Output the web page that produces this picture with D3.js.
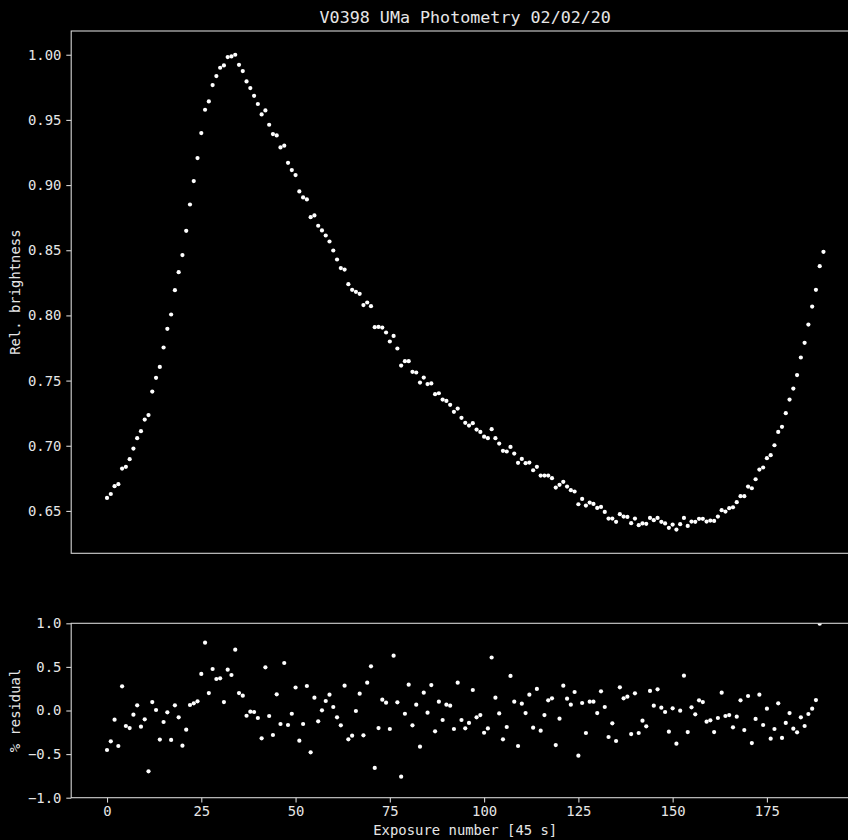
<!DOCTYPE html>
<html>
<head>
<meta charset="utf-8">
<script src="https://cdn.jsdelivr.net/npm/d3@7/dist/d3.min.js"></script>
<style>
  html, body { margin: 0; padding: 0; background: #000; }
  svg { display: block; }
  text { font-family: "DejaVu Sans Mono", monospace; fill: #e6e6e6; }
</style>
</head>
<body>
<svg id="chart" width="848" height="840"></svg>
<script>
// Relative brightness per exposure (45 s each)
const brightness = [
  0.6600, 0.6630, 0.6690, 0.6705, 0.6825, 0.6838, 0.6897, 0.6978, 0.7058, 0.7112,
  0.7201, 0.7235, 0.7416, 0.7521, 0.7605, 0.7754, 0.7897, 0.8007, 0.8194, 0.8332,
  0.8463, 0.8649, 0.8851, 0.9031, 0.9207, 0.9399, 0.9578, 0.9642, 0.9767, 0.9836,
  0.9900, 0.9918, 0.9982, 0.9987, 1.0000, 0.9923, 0.9875, 0.9795, 0.9744, 0.9685,
  0.9622, 0.9542, 0.9573, 0.9463, 0.9391, 0.9381, 0.9289, 0.9302, 0.9171, 0.9115,
  0.9077, 0.8951, 0.8905, 0.8890, 0.8754, 0.8767, 0.8688, 0.8652, 0.8613, 0.8567,
  0.8498, 0.8429, 0.8363, 0.8352, 0.8240, 0.8196, 0.8181, 0.8166, 0.8079, 0.8099,
  0.8071, 0.7910, 0.7912, 0.7907, 0.7869, 0.7800, 0.7843, 0.7746, 0.7615, 0.7649,
  0.7649, 0.7567, 0.7562, 0.7485, 0.7523, 0.7473, 0.7478, 0.7396, 0.7403, 0.7354,
  0.7344, 0.7314, 0.7260, 0.7285, 0.7214, 0.7176, 0.7155, 0.7173, 0.7124, 0.7106,
  0.7070, 0.7058, 0.7127, 0.7058, 0.7017, 0.6961, 0.6956, 0.6991, 0.6940, 0.6869,
  0.6899, 0.6866, 0.6871, 0.6812, 0.6838, 0.6771, 0.6771, 0.6771, 0.6751, 0.6679,
  0.6700, 0.6723, 0.6687, 0.6659, 0.6649, 0.6551, 0.6592, 0.6541, 0.6564, 0.6554,
  0.6523, 0.6531, 0.6492, 0.6441, 0.6441, 0.6416, 0.6475, 0.6457, 0.6454, 0.6406,
  0.6441, 0.6391, 0.6404, 0.6401, 0.6446, 0.6429, 0.6446, 0.6416, 0.6404, 0.6370,
  0.6395, 0.6357, 0.6398, 0.6446, 0.6385, 0.6418, 0.6416, 0.6439, 0.6439, 0.6418,
  0.6426, 0.6423, 0.6457, 0.6506, 0.6495, 0.6521, 0.6528, 0.6567, 0.6613, 0.6613,
  0.6687, 0.6674, 0.6743, 0.6817, 0.6833, 0.6905, 0.6928, 0.7004, 0.7106, 0.7145,
  0.7250, 0.7354, 0.7439, 0.7542, 0.7677, 0.7790, 0.7930, 0.8068, 0.8196, 0.8378,
  0.8488
];

// Fit residuals in percent
const residual = [
  -0.453, -0.353, -0.105, -0.407, 0.277, -0.178, -0.201, -0.048, 0.059, -0.185,
  -0.101, -0.698, 0.097, 0.006, -0.334, -0.132, -0.021, -0.338, 0.059, -0.078,
  -0.403, -0.220, 0.063, 0.082, 0.105, 0.419, 0.778, 0.200, 0.476, 0.361,
  0.369, 0.097, 0.468, 0.407, 0.698, 0.200, 0.170, -0.060, -0.014, -0.017,
  -0.086, -0.319, 0.495, -0.063, -0.281, 0.186, -0.155, 0.545, -0.166, -0.037,
  0.264, -0.346, -0.155, 0.281, -0.480, 0.147, -0.124, 0.002, 0.109, 0.182,
  0.040, -0.078, -0.170, 0.285, -0.331, -0.289, -0.006, 0.193, -0.285, 0.319,
  0.507, -0.659, -0.201, 0.124, 0.090, -0.212, 0.629, 0.094, -0.759, -0.037,
  0.296, -0.170, 0.067, -0.415, 0.204, -0.025, 0.292, -0.239, 0.101, -0.109,
  0.067, 0.055, -0.212, 0.319, -0.109, -0.204, -0.143, 0.235, -0.078, -0.052,
  -0.255, -0.206, 0.608, 0.147, -0.033, -0.331, -0.189, 0.396, 0.101, -0.407,
  0.078, -0.029, 0.182, -0.197, 0.247, -0.231, -0.052, 0.117, 0.140, -0.396,
  -0.094, 0.285, 0.136, 0.067, 0.212, -0.518, 0.086, -0.258, 0.101, 0.101,
  -0.029, 0.220, 0.040, -0.304, -0.147, -0.350, 0.266, 0.140, 0.158, -0.270,
  0.197, -0.258, -0.117, -0.181, 0.224, 0.055, 0.243, 0.032, -0.017, -0.243,
  0.025, -0.381, -0.002, 0.399, -0.247, 0.036, -0.044, 0.117, 0.097, -0.128,
  -0.113, -0.247, -0.086, 0.204, -0.063, -0.052, -0.193, -0.071, 0.117, -0.224,
  0.166, -0.373, -0.097, 0.182, -0.166, 0.021, -0.323, -0.212, 0.082, -0.315,
  -0.143, -0.029, -0.209, -0.250, -0.078, -0.178, -0.040, 0.021, 0.120, 0.995
];

const xTicks = [0, 25, 50, 75, 100, 125, 150, 175];
const yTicksTop = [0.65, 0.70, 0.75, 0.80, 0.85, 0.90, 0.95, 1.00];
const yTicksBottom = [-1.0, -0.5, 0.0, 0.5, 1.0];

const titleText = "V0398 UMa Photometry 02/02/20";
const xLabel = "Exposure number [45 s]";
const yLabelTop = "Rel. brightness";
const yLabelBottom = "% residual";

const svg = d3.select("#chart");
const W = 848, H = 840;
svg.append("rect").attr("width", W).attr("height", H).attr("fill", "#000");

const axisColor = "#d4d4d4";
const left = 71.2, right = 859.3;
const topPanel = { top: 31, bottom: 553.3 };
const botPanel = { top: 623.3, bottom: 797.7 };

// 5% data margins on x and on the brightness axis
const n = brightness.length;
const xPad = (n - 1) * 0.05;
const x = d3.scaleLinear().domain([-xPad, (n - 1) + xPad]).range([left, right]);

const bMin = d3.min(brightness), bMax = d3.max(brightness);
const bPad = (bMax - bMin) * 0.05;
const yTop = d3.scaleLinear().domain([bMin - bPad, bMax + bPad]).range([topPanel.bottom, topPanel.top]);
const yBot = d3.scaleLinear().domain([-1, 1]).range([botPanel.bottom, botPanel.top]);

const minus = s => s.replace("-", "\u2212");

function frame(p) {
  svg.append("rect")
    .attr("x", left).attr("y", p.top)
    .attr("width", right - left).attr("height", p.bottom - p.top)
    .attr("fill", "none").attr("stroke", axisColor).attr("stroke-width", 1.1);
}

function styleAxis(g) {
  g.select(".domain").remove();
  g.selectAll(".tick line").attr("stroke", axisColor).attr("stroke-width", 1.1);
  g.selectAll(".tick text")
    .attr("fill", "#e6e6e6")
    .style("font-family", "'DejaVu Sans Mono', monospace")
    .style("font-size", "13.9px");
}

// Clip paths for each panel
const defs = svg.append("defs");
defs.append("clipPath").attr("id", "clipTop").append("rect")
  .attr("x", left).attr("y", topPanel.top).attr("width", right - left).attr("height", topPanel.bottom - topPanel.top);
defs.append("clipPath").attr("id", "clipBot").append("rect")
  .attr("x", left).attr("y", botPanel.top).attr("width", right - left).attr("height", botPanel.bottom - botPanel.top);

// ---- Top panel: light curve ----
svg.append("g")
  .attr("transform", `translate(${left},0)`)
  .call(d3.axisLeft(yTop).tickValues(yTicksTop).tickFormat(d3.format(".2f")).tickSizeOuter(0).tickSize(4.9).tickPadding(4.9))
  .call(styleAxis);

svg.append("g").attr("clip-path", "url(#clipTop)")
  .selectAll("circle").data(brightness).join("circle")
  .attr("cx", (d, i) => x(i))
  .attr("cy", d => yTop(d))
  .attr("r", 2.1)
  .attr("fill", "#fff");

frame(topPanel);

// ---- Bottom panel: residuals ----
svg.append("g")
  .attr("transform", `translate(${left},0)`)
  .call(d3.axisLeft(yBot).tickValues(yTicksBottom).tickFormat(d => minus(d3.format(".1f")(d))).tickSizeOuter(0).tickSize(4.9).tickPadding(4.9))
  .call(styleAxis);

svg.append("g")
  .attr("transform", `translate(0,${botPanel.bottom})`)
  .call(d3.axisBottom(x).tickValues(xTicks).tickFormat(d3.format("d")).tickSizeOuter(0).tickSize(4.9).tickPadding(3.2))
  .call(styleAxis);

svg.append("g").attr("clip-path", "url(#clipBot)")
  .selectAll("circle").data(residual).join("circle")
  .attr("cx", (d, i) => x(i))
  .attr("cy", d => yBot(d))
  .attr("r", 2.1)
  .attr("fill", "#fff");

frame(botPanel);

// ---- Titles and labels ----
svg.append("text")
  .attr("x", (left + right) / 2).attr("y", 23.3)
  .attr("text-anchor", "middle")
  .style("font-size", "16.7px")
  .text(titleText);

svg.append("text")
  .attr("x", (left + right) / 2).attr("y", 835)
  .attr("text-anchor", "middle")
  .style("font-size", "13.9px")
  .text(xLabel);

svg.append("text")
  .attr("transform", `translate(20,${(topPanel.top + topPanel.bottom) / 2}) rotate(-90)`)
  .attr("text-anchor", "middle")
  .style("font-size", "13.9px")
  .text(yLabelTop);

svg.append("text")
  .attr("transform", `translate(20,${(botPanel.top + botPanel.bottom) / 2}) rotate(-90)`)
  .attr("text-anchor", "middle")
  .style("font-size", "13.9px")
  .text(yLabelBottom);
</script>
</body>
</html>
